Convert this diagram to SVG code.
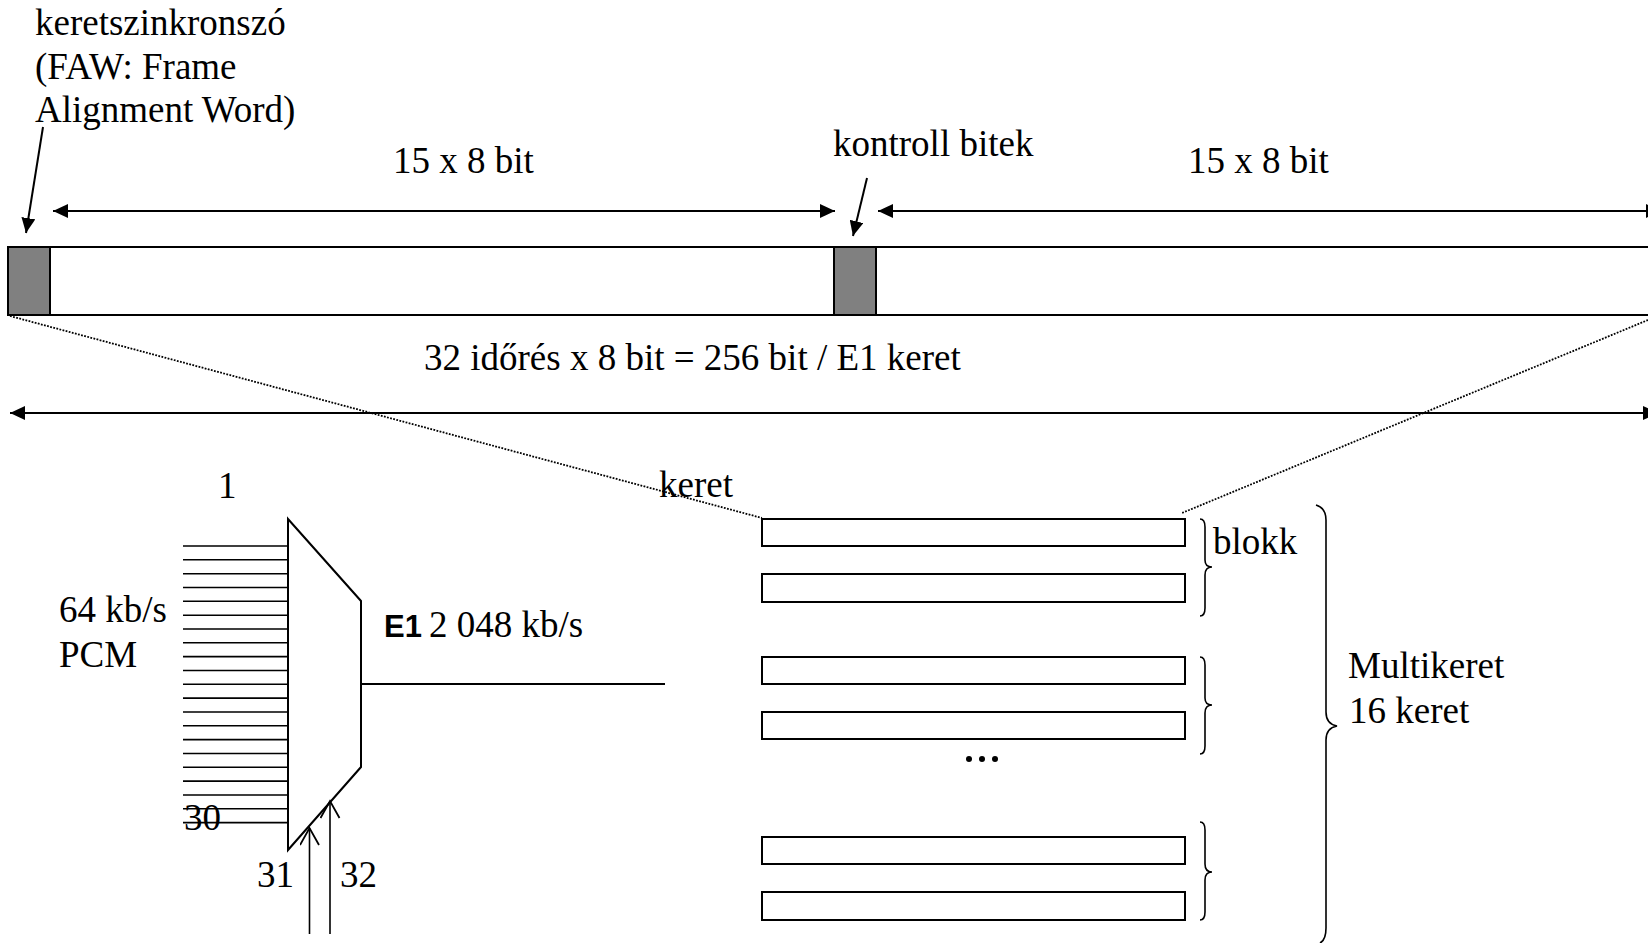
<svg xmlns="http://www.w3.org/2000/svg" width="1648" height="943" viewBox="0 0 1648 943">
<style>
text{font-family:"Liberation Serif","Times New Roman",serif;font-size:37px;fill:#000}
.b{font-family:"Liberation Sans",Arial,sans-serif;font-weight:bold;font-size:31px}
.ln{stroke:#000;stroke-width:2;fill:none}
.thin{stroke:#000;stroke-width:1.6;fill:none}
.dot{stroke:#000;stroke-width:1.8;stroke-dasharray:1.8 1.4;fill:none}
.frame{fill:#fff;stroke:#000;stroke-width:2}
.gray{fill:#808080;stroke:#000;stroke-width:2}
</style>
<defs>
<marker id="ah" markerUnits="userSpaceOnUse" markerWidth="16" markerHeight="14" refX="15" refY="7" orient="auto-start-reverse" viewBox="0 0 16 14">
<path d="M0,0 L15,7 L0,14 z" fill="#000"/>
</marker>
<marker id="oa" markerUnits="userSpaceOnUse" markerWidth="24" markerHeight="24" refX="18" refY="10" orient="auto" viewBox="0 0 24 24">
<path d="M1,0.5 L18,10 L1,19.5" fill="none" stroke="#000" stroke-width="1.8"/>
</marker>
</defs>

<g id="e1-frame-bar">
<rect class="frame" x="8" y="247" width="1660" height="68"/>
<rect class="gray" x="8" y="247" width="42" height="68"/>
<rect class="gray" x="834" y="247" width="42" height="68"/>
</g>

<g id="labels-top">
<text x="35" y="35">keretszinkronszó</text>
<text x="35" y="79">(FAW: Frame</text>
<text x="35" y="122">Alignment Word)</text>
<text x="393" y="173">15 x 8 bit</text>
<text x="833" y="156">kontroll bitek</text>
<text x="1188" y="173">15 x 8 bit</text>
<text x="424" y="370">32 időrés x 8 bit = 256 bit / E1 keret</text>
</g>

<g id="mux">
<path class="ln" d="M288,519 L361,601 L361,767 L288,850 Z"/>
<text x="218" y="498">1</text>
<text x="59" y="622">64 kb/s</text>
<text x="59" y="667">PCM</text>
<text x="184" y="830">30</text>
<text x="257" y="887">31</text>
<text x="340" y="887">32</text>
<text class="b" x="384" y="637">E1</text>
<text x="429" y="637">2 048 kb/s</text>
</g>

<g id="multiframe">
<rect class="frame" x="762" y="519" width="423" height="27"/>
<rect class="frame" x="762" y="574" width="423" height="28"/>
<rect class="frame" x="762" y="657" width="423" height="27"/>
<rect class="frame" x="762" y="712" width="423" height="27"/>
<rect class="frame" x="762" y="837" width="423" height="27"/>
<rect class="frame" x="762" y="892" width="423" height="28"/>
<circle cx="969" cy="759" r="3"/>
<circle cx="982" cy="759" r="3"/>
<circle cx="995" cy="759" r="3"/>
<path class="thin" d="M1200,519 Q1205,519 1205,527 L1205,560 Q1205,567 1212,567 Q1205,567 1205,575 L1205,608 Q1205,616 1200,616"/>
<path class="thin" d="M1200,657 Q1205,657 1205,665 L1205,698 Q1205,705 1212,705 Q1205,705 1205,713 L1205,746 Q1205,754 1200,754"/>
<path class="thin" d="M1200,822 Q1205,822 1205,830 L1205,864 Q1205,872 1212,872 Q1205,872 1205,880 L1205,912 Q1205,920 1200,920"/>
<path class="thin" d="M1316,505 Q1326,508 1326,520 L1326,712 Q1326,724 1337,726 Q1326,728 1326,740 L1326,928 Q1326,940 1320,943"/>
<text x="1213" y="554">blokk</text>
<text x="1348" y="678">Multikeret</text>
<text x="1349" y="723">16 keret</text>
<text x="659" y="497">keret</text>
</g>

<g id="connectors">
<line class="ln" x1="53" y1="211" x2="835" y2="211" marker-start="url(#ah)" marker-end="url(#ah)"/>
<line class="ln" x1="878" y1="211" x2="1661" y2="211" marker-start="url(#ah)" marker-end="url(#ah)"/>
<line class="ln" x1="10" y1="413" x2="1658" y2="413" marker-start="url(#ah)" marker-end="url(#ah)"/>
<line class="ln" x1="43" y1="127" x2="26" y2="233" marker-end="url(#ah)"/>
<line class="ln" x1="867" y1="178" x2="853" y2="236" marker-end="url(#ah)"/>
<line class="dot" x1="10" y1="316" x2="762" y2="518"/>
<line class="dot" x1="1648" y1="320" x2="1182" y2="513"/>
<g class="thin">
<path d="M183,546 H288 M183,559.8 H288 M183,573.7 H288 M183,587.5 H288 M183,601.3 H288 M183,615.2 H288 M183,629 H288 M183,642.8 H288 M183,656.6 H288 M183,670.5 H288 M183,684.3 H288 M183,698.1 H288 M183,712 H288 M183,725.8 H288 M183,739.6 H288 M183,753.5 H288 M183,767.3 H288 M183,781.1 H288 M183,795 H288 M183,808.8 H288 M183,822.6 H288"/>
</g>
<line class="ln" x1="361" y1="684" x2="665" y2="684"/>
<line class="thin" x1="309.5" y1="934" x2="309.5" y2="828" marker-end="url(#oa)"/>
<line class="thin" x1="330" y1="934" x2="330" y2="801" marker-end="url(#oa)"/>
</g>
</svg>
